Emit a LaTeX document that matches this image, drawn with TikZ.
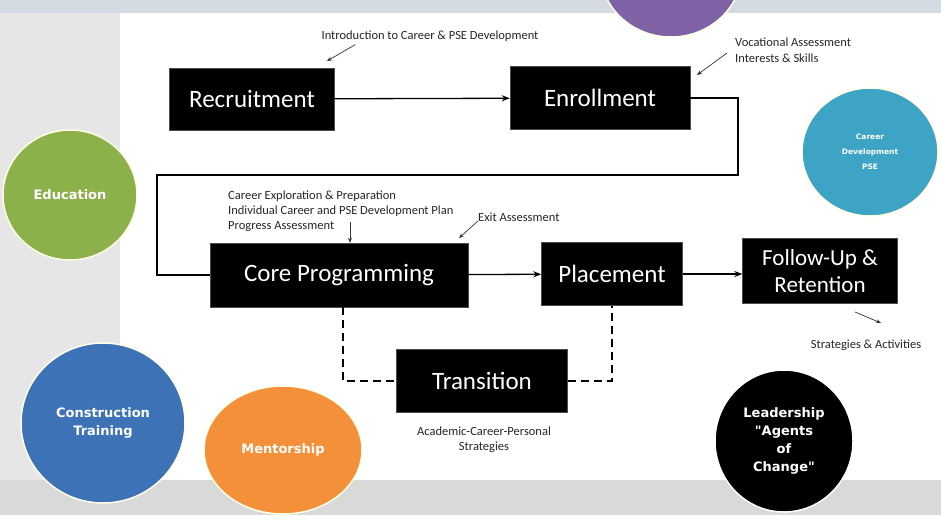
\documentclass[tikz,border=0pt]{standalone}
\usepackage{fontspec}
\setmainfont{Carlito}
\newfontfamily\circfont{DejaVu Sans}
\usetikzlibrary{arrows.meta,shapes.geometric}
\definecolor{edugreen}{HTML}{8CB04A}
\definecolor{psecyan}{HTML}{3EA4C6}
\definecolor{trainblue}{HTML}{3E72B7}
\definecolor{mentororange}{HTML}{F48F3A}
\definecolor{toppurple}{HTML}{7F62A6}
\definecolor{backgray}{HTML}{D9D9D9}
\definecolor{sidegray}{HTML}{E6E6E6}
\definecolor{stripgray}{HTML}{D3DAE2}

\begin{document}
\begin{tikzpicture}[x=1pt,y=-1pt,
  box/.style={fill=black,draw=black!70,text=white,inner sep=0pt,align=center,
    font=\fontsize{25}{27}\selectfont},
  note/.style={inner sep=0pt,text=black!85,font=\fontsize{12.5}{15}\selectfont},
  flow/.style={-{Stealth[length=8pt,width=6pt]},line width=1.3pt},
  link/.style={line width=1.3pt},
  pointer/.style={-{Stealth[length=5pt,width=4pt]},line width=0.7pt,black!80},
  blob/.style={ellipse,draw=white!90!yellow,line width=1.5pt,text=white,inner sep=0pt,
    align=center,font=\circfont\bfseries\fontsize{13}{18}\selectfont}]
\clip (0,0) rectangle (941,515);
\fill[backgray] (0,0) rectangle (941,515);
\fill[stripgray] (0,0) rectangle (941,13);
\fill[sidegray] (0,13) rectangle (120,480);
\fill[white] (120,13) rectangle (941,480);

\node[blob,fill=toppurple,minimum width=142,minimum height=134] (purple) at (671,-30) {};
\node[blob,fill=edugreen,minimum width=134,minimum height=130] (edu) at (70,195) {Education};
\node[blob,fill=psecyan,minimum width=136,minimum height=128,
  font=\circfont\bfseries\fontsize{7.5}{15}\selectfont] (pse) at (870,152) {Career\\Development\\PSE};
\node[blob,fill=trainblue,minimum width=164,minimum height=160] (train) at (103,423) {Construction\\Training};
\node[blob,fill=mentororange,minimum width=158,minimum height=128] (mentor) at (283,450) {Mentorship};
\node[blob,fill=black,draw=white,minimum width=138,minimum height=142] (lead) at (784,441) {Leadership\\"Agents\\of\\Change"};

\node[box,minimum width=165,minimum height=62] (rec) at (252,99) {Recruitment};
\node[box,minimum width=180,minimum height=63] (enr) at (600,98) {Enrollment};
\node[box,minimum width=258,minimum height=64] (core) at (339,275) {Core Programming};
\node[box,minimum width=141,minimum height=63] (place) at (612,274) {Placement};
\node[box,minimum width=155,minimum height=65,font=\fontsize{23}{27}\selectfont] (follow) at (820,271) {Follow-Up \&\\Retention};
\node[box,minimum width=171,minimum height=63] (trans) at (482,381) {Transition};

\draw[flow] (rec) -- (enr);
\coordinate (turnR) at (738,175);
\coordinate (turnL) at (157,175);
\draw[link] (enr.east) -| (turnR) -- (turnL) |- (core.west);
\draw[flow] (core) -- (place);
\draw[flow] (place.east) -- (place.east -| follow.west);
\draw[link,dash pattern=on 8pt off 5pt] ([xshift=4pt]core.south) |- (trans.west);
\draw[link,dash pattern=on 8pt off 5pt] (trans.east) -| (place.south);

\node[note] (intro) at (430,36) {Introduction to Career \& PSE Development};
\coordinate (introtip) at (327,61);
\draw[pointer] ([xshift=34pt,yshift=-3pt]intro.south west) -- (introtip);

\node[note,anchor=west,align=left,font=\fontsize{12.5}{16}\selectfont] (voc) at (735,50) {Vocational Assessment\\Interests \& Skills};
\coordinate (voctip) at (697,75);
\draw[pointer] ([xshift=-8pt,yshift=-3pt]voc.west) -- (voctip);

\node[note,anchor=west,align=left] (explore) at (228,211) {Career Exploration \& Preparation\\Individual Career and PSE Development Plan\\Progress Assessment};
\coordinate (exploretail) at (350,222);
\draw[pointer] (exploretail) -- (exploretail |- core.north);

\node[note,anchor=west] (exit) at (478,217) {Exit Assessment};
\coordinate (exittip) at (459,238);
\draw[pointer] ([yshift=-4pt]exit.west) -- (exittip);

\node[note] (strat) at (866,345) {Strategies \& Activities};
\coordinate (strattail) at (855,312);
\coordinate (strattip) at (881,323);
\draw[pointer] (strattail) -- (strattip);

\node[note,align=center] (acad) at (484,440) {Academic-Career-Personal\\Strategies};
\end{tikzpicture}
\end{document}
